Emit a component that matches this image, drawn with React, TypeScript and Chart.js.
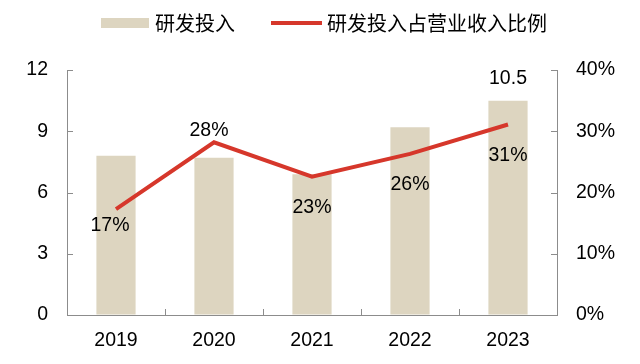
import React, { useEffect, useRef } from "react";
import { Chart, registerables } from "chart.js";

Chart.register(...registerables);

const categories = ["2019", "2020", "2021", "2022", "2023"];
const rdSpend = [7.8, 7.7, 6.9, 9.2, 10.5];
const rdRatio = [17.3, 28.2, 22.6, 26.3, 31.1];
const barLabelShown = [false, false, false, false, true];
const leftTicks = [0, 3, 6, 9, 12];
const rightTicks = [0, 10, 20, 30, 40];

const seriesNames = ["研发投入", "研发投入占营业收入比例"];

// styling only
const BAR_COLOR = "#DDD5C0";
const LINE_COLOR = "#D6372B";
const AXIS_COLOR = "#8C8C8C";
const lineLabelDx = [-6, -5, 0, 0, 0];
const lineLabelDy = [17, -12, 31, 31, 31];
const NUM_SIZE = 19.5;
const NUM_FONT = NUM_SIZE + "px 'Liberation Sans', Arial, sans-serif";
const CJK_FONT = "20px 'Noto Sans CJK SC', sans-serif";

const decorPlugin = {
  id: "decor",
  afterDraw(chart: any) {
    const ctx = chart.ctx;
    const { x, y, y1 } = chart.scales;
    const area = chart.chartArea;
    ctx.save();
    // inside ticks
    ctx.strokeStyle = AXIS_COLOR;
    ctx.lineWidth = 1;
    ctx.beginPath();
    leftTicks.forEach((v) => {
      const py = Math.round(y.getPixelForValue(v)) + 0.5;
      ctx.moveTo(area.left, py);
      ctx.lineTo(area.left + 6, py);
    });
    rightTicks.forEach((v) => {
      const py = Math.round(y1.getPixelForValue(v)) + 0.5;
      ctx.moveTo(area.right - 6, py);
      ctx.lineTo(area.right, py);
    });
    for (let i = 1; i < categories.length; i++) {
      const px =
        Math.round((x.getPixelForValue(i - 1) + x.getPixelForValue(i)) / 2) + 0.5;
      ctx.moveTo(px, area.bottom);
      ctx.lineTo(px, area.bottom - 6);
    }
    ctx.stroke();

    // data labels
    ctx.fillStyle = "#000";
    ctx.font = NUM_FONT;
    ctx.textAlign = "center";
    ctx.textBaseline = "middle";
    const barMeta = chart.getDatasetMeta(0);
    barMeta.data.forEach((el: any, i: number) => {
      if (barLabelShown[i]) {
        ctx.fillText(rdSpend[i].toFixed(1), el.x, el.y - 22);
      }
    });
    const lineMeta = chart.getDatasetMeta(1);
    lineMeta.data.forEach((el: any, i: number) => {
      ctx.fillText(
        Math.round(rdRatio[i]) + "%",
        el.x + lineLabelDx[i],
        el.y + lineLabelDy[i]
      );
    });

    // legend
    const ly = 23;
    ctx.fillStyle = BAR_COLOR;
    ctx.fillRect(101, ly - 5, 48, 10);
    ctx.strokeStyle = LINE_COLOR;
    ctx.lineWidth = 4;
    ctx.beginPath();
    ctx.moveTo(271, ly);
    ctx.lineTo(322, ly);
    ctx.stroke();
    ctx.fillStyle = "#000";
    ctx.font = CJK_FONT;
    ctx.textAlign = "left";
    ctx.fillText(seriesNames[0], 155, ly);
    ctx.fillText(seriesNames[1], 327, ly);
    ctx.restore();
  },
};

export default function App() {
  const ref = useRef<HTMLCanvasElement>(null);
  useEffect(() => {
    if (!ref.current) return;
    const tickFont = { family: "'Liberation Sans', Arial, sans-serif", size: NUM_SIZE };
    const chart = new Chart(ref.current, {
      type: "bar",
      data: {
        labels: categories,
        datasets: [
          {
            type: "bar",
            label: seriesNames[0],
            data: rdSpend,
            backgroundColor: BAR_COLOR,
            yAxisID: "y",
            barPercentage: 0.4,
            categoryPercentage: 1,
            order: 2,
          },
          {
            type: "line",
            label: seriesNames[1],
            data: rdRatio,
            borderColor: LINE_COLOR,
            backgroundColor: LINE_COLOR,
            borderWidth: 4,
            pointRadius: 0,
            tension: 0,
            yAxisID: "y1",
            order: 1,
          },
        ] as any,
      },
      options: {
        responsive: false,
        devicePixelRatio: 1,
        animation: false,
        layout: { padding: { top: 70, left: 0, right: 0, bottom: 0 } },
        plugins: { legend: { display: false }, tooltip: { enabled: false } },
        scales: {
          x: {
            grid: { display: true, drawOnChartArea: false, drawTicks: false },
            border: { display: true, color: AXIS_COLOR, width: 1 },
            ticks: { font: tickFont, color: "#000", padding: 14 },
            afterFit: (s: any) => {
              s.height = 49;
            },
          },
          y: {
            position: "left",
            min: 0,
            max: 12,
            grid: { display: true, drawOnChartArea: false, drawTicks: false },
            border: { display: true, color: AXIS_COLOR, width: 1 },
            ticks: { stepSize: 3, font: tickFont, color: "#000", padding: 19 },
            afterFit: (s: any) => {
              s.width = 67;
            },
          },
          y1: {
            position: "right",
            min: 0,
            max: 40,
            grid: { display: true, drawOnChartArea: false, drawTicks: false },
            border: { display: true, color: AXIS_COLOR, width: 1 },
            ticks: {
              stepSize: 10,
              font: tickFont,
              color: "#000",
              padding: 19,
              callback: (v: any) => v + "%",
            },
            afterFit: (s: any) => {
              s.width = 83;
            },
          },
        },
      } as any,
      plugins: [decorPlugin],
    });
    return () => chart.destroy();
  }, []);
  return (
    <div style={{ position: "absolute", left: 0, top: 0, width: 640, height: 364, background: "#fff" }}>
      <canvas ref={ref} width={640} height={364} />
    </div>
  );
}
